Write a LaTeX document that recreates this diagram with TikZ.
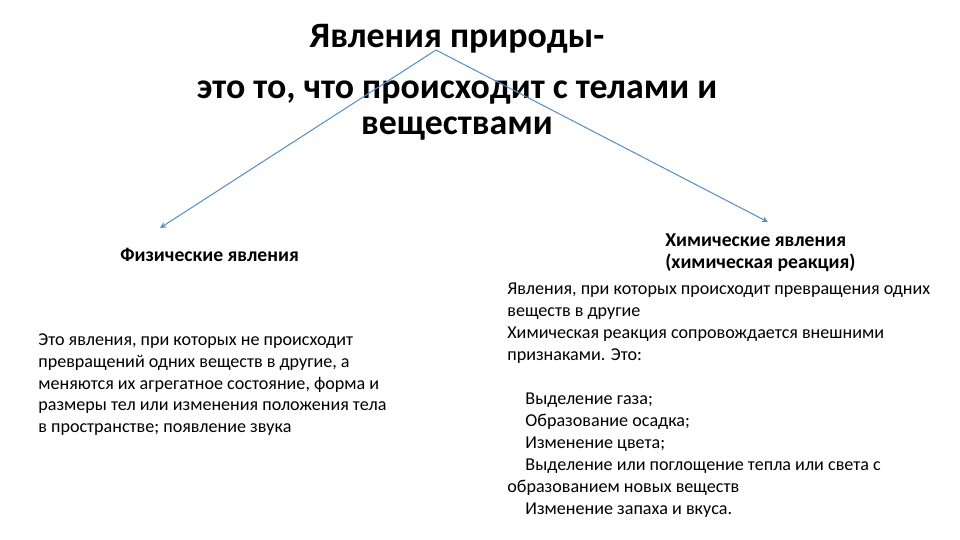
\documentclass[tikz,border=0pt]{standalone}
\usepackage{fontspec}
\setmainfont{Carlito}

\tikzset{
	titletext/.style = {font = \fontsize{20.4}{21.5}\selectfont\bfseries, inner sep = 0, anchor = base},
	heading/.style = {font = \fontsize{11.2}{13}\selectfont\bfseries, inner sep = 0},
	bodytext/.style = {font = \fontsize{10.3}{12.5}\selectfont, align = left, inner sep = 0, anchor = north west},
	link/.style = {->, draw = {rgb,255:red,91;green,143;blue,199}, line width = 0.6pt}
}

\begin{document}
\begin{tikzpicture}[> = stealth, x = 0.02cm, y = -0.02cm]

% Page

\useasboundingbox (0, 0) rectangle (960, 540);

% Title

\node [titletext] (title) at (457, 48) {Явления природы-};
\node [titletext] (definition) at (457, 99) {это то, что происходит с телами и};
\node [titletext] (definition-end) at (457, 135) {веществами};

% Arrow ends

\coordinate (apex) at (436, 50);
\coordinate (phys-end) at (160, 228);
\coordinate (chem-end) at (768, 222);

\draw [link] (apex) -- (phys-end);
\draw [link] (apex) -- (chem-end);

% Physical phenomena

\node [heading, anchor = west] (phys) at (120, 255) {Физические явления};

\node [bodytext] (phys-text) at (38, 333) {Это явления, при которых не происходит\\
превращений одних веществ в другие, а\\
меняются их агрегатное состояние, форма и\\
размеры тел или изменения положения тела\\
в пространстве; появление звука};

% Chemical phenomena

\node [heading, align = left, anchor = north west] (chem) at (665, 233) {Химические явления\\(химическая реакция)};

\node [bodytext] (chem-text) at (507, 283) {Явления, при которых происходит превращения одних\\
веществ в другие\\
Химическая реакция сопровождается внешними\\
признаками. Это:\\[12.4pt]
\quad Выделение газа;\\
\quad Образование осадка;\\
\quad Изменение цвета;\\
\quad Выделение или поглощение тепла или света с\\
образованием новых веществ\\
\quad Изменение запаха и вкуса.};

\end{tikzpicture}
\end{document}
